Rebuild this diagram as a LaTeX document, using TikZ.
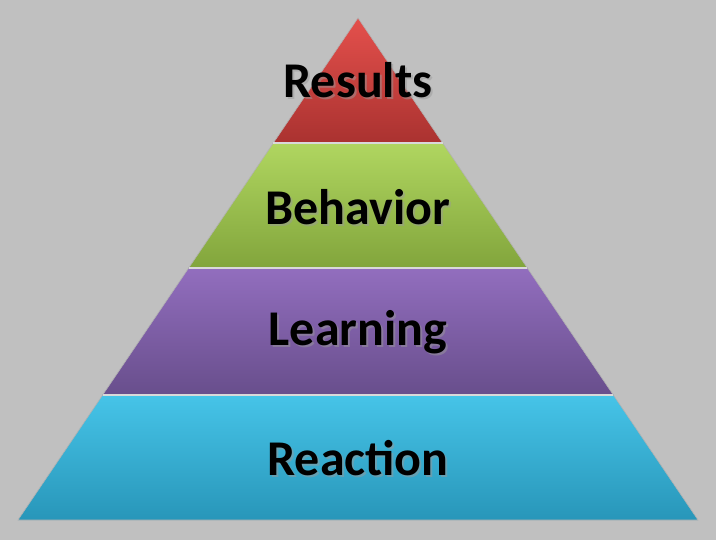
\documentclass[tikz,border=0pt]{standalone}
\usepackage{fontspec}
\setmainfont{Carlito}
\begin{document}
\begin{tikzpicture}[x=1pt,y=-1pt,
  layer/.style={draw=white!70!black, line width=0.6pt},
  sep/.style={white!85!black, line width=1.5pt},
  lbl/.style={font=\bfseries\fontsize{50}{54}\selectfont, text=black}]
\useasboundingbox[fill={rgb,255:red,192;green,192;blue,192}] (0,0) rectangle (716,540);
\coordinate (a) at (358,18);
\coordinate (l1) at (273.34,143); \coordinate (r1) at (442.66,143);
\coordinate (l2) at (188.68,268); \coordinate (r2) at (527.32,268);
\coordinate (l3) at (102.66,395); \coordinate (r3) at (613.34,395);
\coordinate (l4) at (18,520);     \coordinate (r4) at (698,520);
\path[layer, top color={rgb,255:red,228;green,80;blue,76}, bottom color={rgb,255:red,170;green,50;blue,48}]
  (a) -- (r1) -- (l1) -- cycle;
\path[layer, top color={rgb,255:red,176;green,214;blue,96}, bottom color={rgb,255:red,130;green,165;blue,60}]
  (l1) -- (r1) -- (r2) -- (l2) -- cycle;
\path[layer, top color={rgb,255:red,146;green,110;blue,190}, bottom color={rgb,255:red,104;green,78;blue,140}]
  (l2) -- (r2) -- (r3) -- (l3) -- cycle;
\path[layer, top color={rgb,255:red,70;green,196;blue,232}, bottom color={rgb,255:red,40;green,150;blue,185}]
  (l3) -- (r3) -- (r4) -- (l4) -- cycle;
\draw[sep] (l1) -- (r1);
\draw[sep] (l2) -- (r2);
\draw[sep] (l3) -- (r3);
\foreach \n/\t/\yy in {results/Results/80, behavior/Behavior/207, learning/Learning/332, reaction/Reaction/458}{
  \node[lbl, text=black!40, opacity=0.5] at (360,\yy+2) {\t};
  \node[lbl] (\n) at (358,\yy) {\t};
}
\end{tikzpicture}
\end{document}
